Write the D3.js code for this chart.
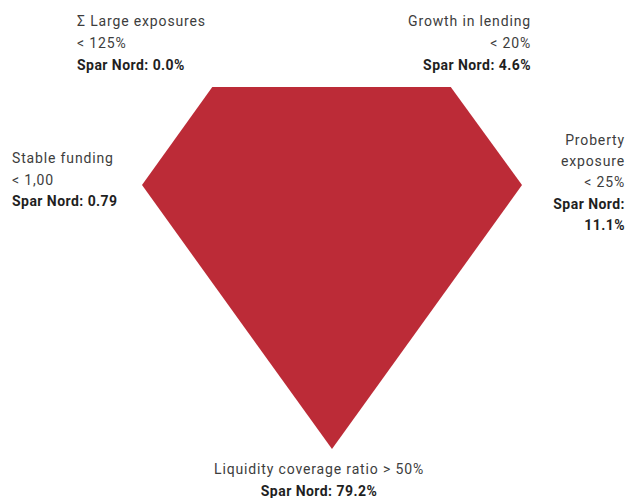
<!DOCTYPE html>
<html>
<head>
<meta charset="utf-8">
<script src="https://cdn.jsdelivr.net/npm/d3@7"></script>
<style>
  html, body { margin: 0; padding: 0; background: #fff; }
  svg { display: block; }
  text { font-family: Roboto, "DejaVu Sans", sans-serif; font-size: 14px; }
</style>
</head>
<body>
<svg id="chart" width="626" height="498"></svg>
<script>
// ---- data ----
const categories = ["Σ Large exposures", "Growth in lending", "Proberty exposure", "Liquidity coverage ratio", "Stable funding"];
const limits = ["< 125%", "< 20%", "< 25%", "> 50%", "< 1,00"];
const values = ["0.0%", "4.6%", "11.1%", "79.2%", "0.79"];
// diamond outline in abstract units (x: -1..1, y: 0 top .. 1 bottom)
const diamondX = [-0.63, 0.625, 1, 0, -1];
const diamondY = [0, 0, 0.271, 1, 0.271];

const svg = d3.select("#chart");
const x = d3.scaleLinear().domain([-1, 1]).range([142, 522]);
const y = d3.scaleLinear().domain([0, 1]).range([87, 449]);

const pts = diamondX.map((d, i) => [x(d), y(diamondY[i])]);
svg.append("path")
  .attr("d", d3.line()(pts) + "Z")
  .attr("fill", "#bc2b37");

const grey = "#3d3d3d", dark = "#1f1f1f";
function block(lines, tx, ty, anchor, lh) {
  const t = svg.append("text").attr("text-anchor", anchor);
  lines.forEach((l, i) => {
    t.append("tspan").attr("x", tx).attr("y", ty + i * lh)
      .attr("font-weight", l.bold ? 700 : 400)
      .attr("letter-spacing", l.bold ? "0.45px" : "0.85px")
      .attr("fill", l.bold ? dark : grey)
      .text(l.t);
  });
}
// top-left
block([{t: categories[0]}, {t: limits[0]}, {t: "Spar Nord: " + values[0], bold: true}], 77, 26, "start", 22);
// top-right
block([{t: categories[1]}, {t: limits[1]}, {t: "Spar Nord: " + values[1], bold: true}], 531, 26, "end", 22);
// right
block([{t: categories[2].split(" ")[0]}, {t: categories[2].split(" ")[1]}, {t: limits[2]},
       {t: "Spar Nord:", bold: true}, {t: values[2], bold: true}], 625, 145, "end", 21.2);
// left
block([{t: categories[4]}, {t: limits[4]}, {t: "Spar Nord: " + values[4], bold: true}], 12, 163, "start", 21.5);
// bottom
block([{t: categories[3] + " " + limits[3]}, {t: "Spar Nord: " + values[3], bold: true}], 319, 474, "middle", 21.5);
</script>
</body>
</html>
